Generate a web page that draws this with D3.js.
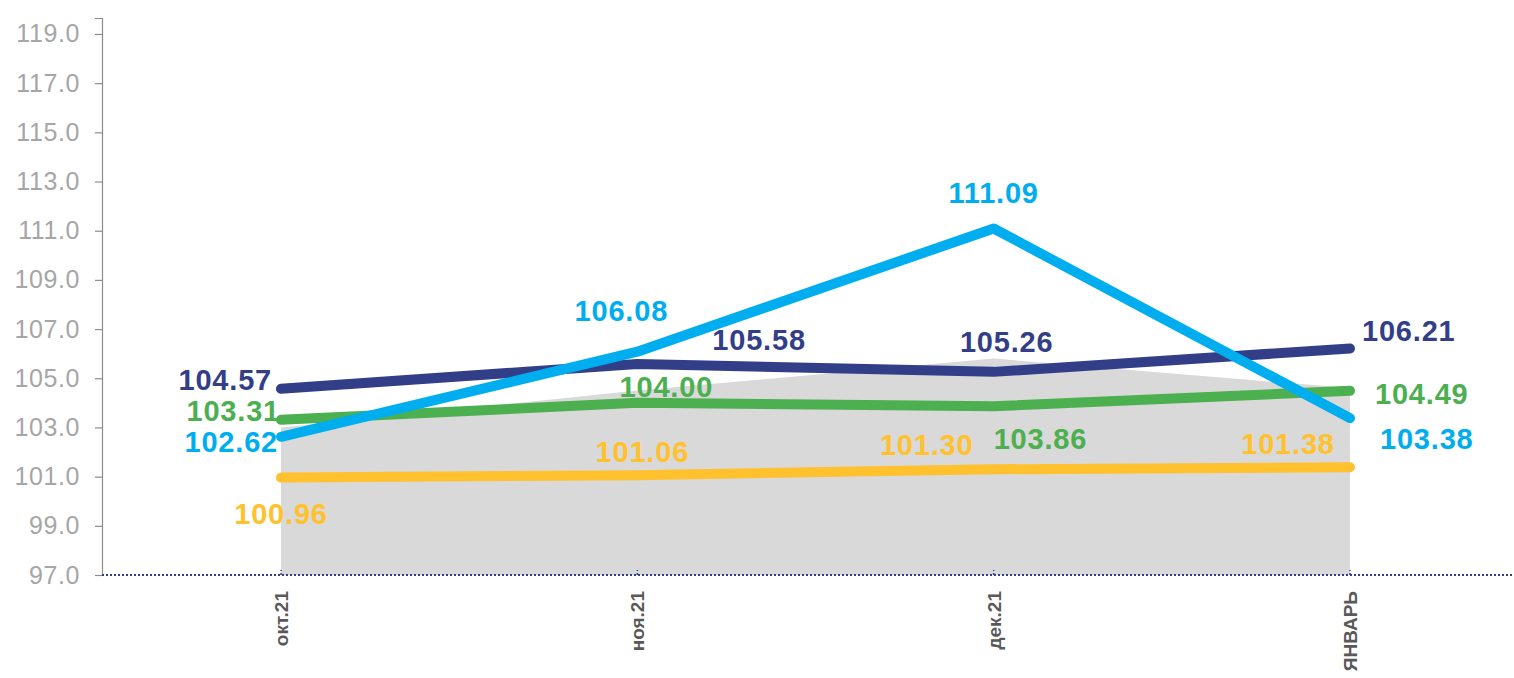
<!DOCTYPE html>
<html>
<head>
<meta charset="utf-8">
<script src="https://cdn.jsdelivr.net/npm/d3@7"></script>
<style>
  body { margin: 0; background: #fff; }
  svg { display: block; }
</style>
</head>
<body>
<script>
const w = 1514
const h = 678

// data
const months = ['окт.21', 'ноя.21', 'дек.21', 'ЯНВАРЬ']
const navy = [104.57, 105.58, 105.26, 106.21]
const green = [103.31, 104.00, 103.86, 104.49]
const cyan = [102.62, 106.08, 111.09, 103.38]
const yellow = [100.96, 101.06, 101.30, 101.38]
const area = [103.0, 104.5, 105.8, 104.6]
const yTicks = [97, 99, 101, 103, 105, 107, 109, 111, 113, 115, 117, 119]

// label placement per point [dx, dy, anchor]
const navyLbl = [[-9, 1, 'end'], [75, -14, 'start'], [13, -20, 'middle'], [12, -8, 'start']]
const greenLbl = [[-1, 1, 'end'], [29, -6, 'middle'], [0, 43, 'start'], [25, 13, 'start']]
const cyanLbl = [[-3, 15, 'end'], [-16, -31, 'middle'], [0, -26, 'middle'], [30, 31, 'start']]
const yellowLbl = [[0, 46, 'middle'], [5, -13, 'middle'], [-67, -14, 'middle'], [-62, -13, 'middle']]

const series = [
  { name: 'yellow', values: yellow, color: '#ffc12e', lbl: yellowLbl },
  { name: 'green', values: green, color: '#4caf50', lbl: greenLbl },
  { name: 'navy', values: navy, color: '#323f88', lbl: navyLbl },
  { name: 'cyan', values: cyan, color: '#00aeef', lbl: cyanLbl }
]

const axisX = 102
const baseY = 575

const svg = d3.select('body').append('svg')
  .attr('width', w)
  .attr('height', h)

const x = d3.scalePoint()
  .domain(months)
  .range([281, 1350])

const y = d3.scaleLinear()
  .domain([97, 119.65])
  .range([baseY, 18])

// gray area
const areaFn = d3.area()
  .x((d, i) => x(months[i]))
  .y0(y(97))
  .y1(d => y(d))

svg.append('path')
  .attr('d', areaFn(area))
  .attr('fill', '#d9d9d9')

// y axis
const yAxis = svg.append('g')
  .attr('transform', `translate(${axisX},0)`)
  .call(d3.axisLeft(y).tickValues(yTicks).tickSize(7).tickFormat(d3.format('.1f')))

yAxis.select('.domain').attr('stroke', '#8c8c8c').attr('stroke-width', 1.2)
yAxis.selectAll('.tick line').attr('stroke', '#8c8c8c').attr('stroke-width', 1.2)
yAxis.selectAll('.tick text')
  .attr('x', -22)
  .attr('fill', '#a6a6a6')
  .style('font-family', 'Liberation Sans, Arial, sans-serif')
  .style('font-size', '25px')
  .style('letter-spacing', '0.6px')

// x axis (dotted)
svg.append('line')
  .attr('x1', axisX)
  .attr('x2', w)
  .attr('y1', baseY)
  .attr('y2', baseY)
  .attr('stroke', '#323f88')
  .attr('stroke-width', 2)
  .attr('stroke-dasharray', '2,2')

svg.selectAll('.xtick')
  .data(months)
  .enter().append('line')
  .attr('x1', d => x(d))
  .attr('x2', d => x(d))
  .attr('y1', baseY)
  .attr('y2', baseY - 5)
  .attr('stroke', '#323f88')
  .attr('stroke-width', 1.5)
  .attr('stroke-dasharray', '2,2')

svg.selectAll('.xlabel')
  .data(months)
  .enter().append('text')
  .attr('transform', d => `translate(${x(d) + 7},591) rotate(-90)`)
  .attr('text-anchor', 'end')
  .attr('fill', '#595959')
  .style('font-family', 'Liberation Sans, Arial, sans-serif')
  .style('font-weight', 'bold')
  .style('font-size', '19px')
  .text(d => d)

// lines
const lineFn = d3.line()
  .x((d, i) => x(months[i]))
  .y(d => y(d))

for (const s of series) {
  svg.append('path')
    .attr('d', lineFn(s.values))
    .attr('fill', 'none')
    .attr('stroke', s.color)
    .attr('stroke-width', 10)
    .attr('stroke-linecap', 'round')
    .attr('stroke-linejoin', 'round')
}

// data labels
for (const s of series) {
  svg.selectAll('.lbl-' + s.name)
    .data(s.values)
    .enter().append('text')
    .attr('x', (d, i) => x(months[i]) + s.lbl[i][0])
    .attr('y', (d, i) => y(d) + s.lbl[i][1])
    .attr('text-anchor', (d, i) => s.lbl[i][2])
    .attr('fill', s.color)
    .style('font-family', 'Liberation Sans, Arial, sans-serif')
    .style('font-weight', 'bold')
    .style('font-size', '29px')
    .style('letter-spacing', '0.8px')
    .text(d => d.toFixed(2))
}
</script>
</body>
</html>
